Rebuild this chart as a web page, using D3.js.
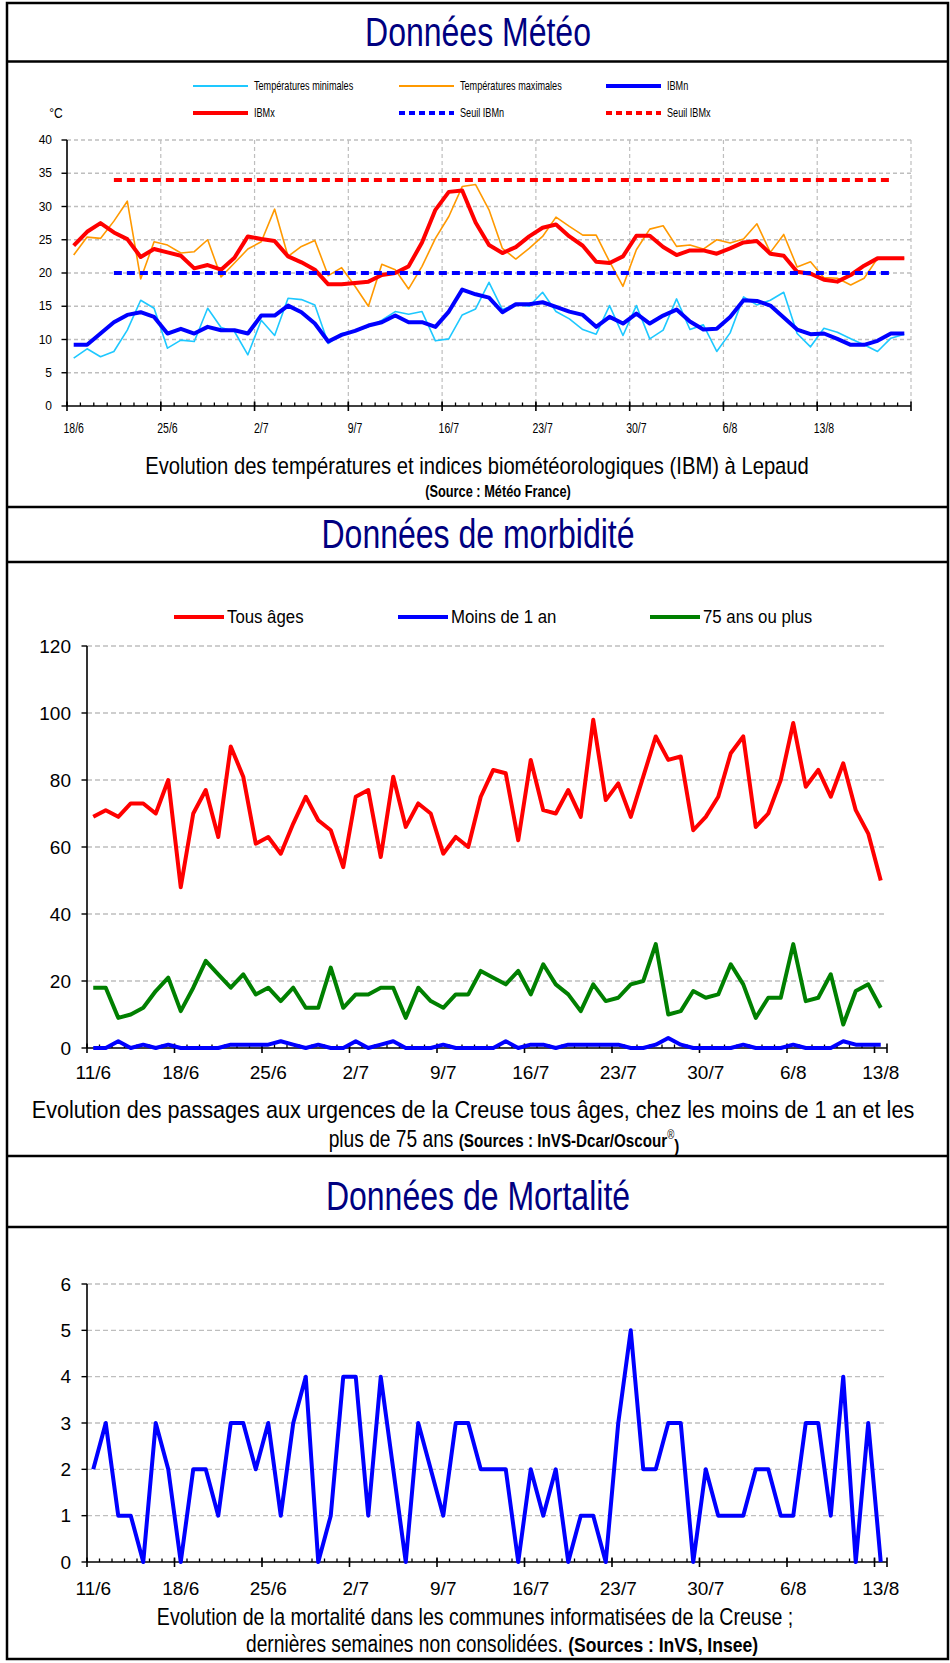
<!DOCTYPE html>
<html><head><meta charset="utf-8">
<script src="https://cdn.jsdelivr.net/npm/d3@7"></script>
<style>body{margin:0;background:#fff} svg{display:block}</style>
</head><body><svg id="c" width="950" height="1663"></svg>
<script>
// ---------------- DATA ----------------
const meteoStart = new Date(2012, 5, 18), meteoEnd = new Date(2012, 7, 20); // 18/6 .. 19/8
const meteoTickLabels = ["18/6","25/6","2/7","9/7","16/7","23/7","30/7","6/8","13/8"];
const meteoYTicks = [0,5,10,15,20,25,30,35,40];
const meteoTmin = [7.2,8.6,7.4,8.2,11.4,15.9,14.7,8.7,9.9,9.7,
  14.7,11.8,11.2,7.7,12.9,10.6,16.2,16.0,15.2,9.4,
  10.9,11.3,11.9,12.9,14.2,13.8,14.2,9.8,10.1,13.7,
  14.6,18.6,14.5,15.3,15.0,17.1,14.2,13.1,11.5,10.8,
  15.1,10.6,15.1,10.1,11.4,16.1,11.5,12.2,8.2,11.0,
  16.4,15.2,15.9,17.1,10.9,8.9,11.7,11.1,10.1,9.2,
  8.2,10.2,10.8];
const meteoTmax = [22.7,25.4,25.2,27.8,30.8,19.1,24.7,24.2,23.0,23.2,
  25.0,19.4,21.5,23.6,24.7,29.6,22.5,24.0,24.9,19.6,
  20.8,18.0,15.0,21.3,20.5,17.6,21.0,25.2,28.5,33.0,
  33.3,29.5,23.7,22.1,23.7,25.5,28.4,27.0,25.7,25.7,
  21.7,18.0,23.5,26.6,27.1,24.0,24.2,23.6,25.0,24.5,
  25.1,27.4,23.1,25.8,20.9,21.7,19.3,19.2,18.2,19.2,
  22.2,22.2,22.2];
const meteoIBMn = [9.2,9.2,10.9,12.6,13.7,14.1,13.4,10.9,11.6,10.9,
  11.9,11.4,11.4,10.9,13.6,13.6,15.1,14.1,12.4,9.7,
  10.7,11.3,12.1,12.6,13.6,12.6,12.6,11.9,14.2,17.5,
  16.8,16.3,14.1,15.3,15.3,15.6,14.9,14.2,13.7,11.9,
  13.4,12.4,13.9,12.4,13.6,14.5,12.7,11.5,11.6,13.4,
  15.9,15.8,15.1,13.3,11.5,10.8,10.9,10.1,9.2,9.2,
  9.8,10.9,10.9];
const meteoIBMx = [24.1,26.2,27.5,26.1,25.1,22.4,23.6,23.1,22.6,20.7,
  21.2,20.5,22.3,25.5,25.1,24.8,22.5,21.6,20.5,18.3,
  18.3,18.5,18.7,19.7,20.0,21.0,24.6,29.5,32.2,32.4,
  27.6,24.2,23.0,23.9,25.5,26.8,27.3,25.5,24.1,21.7,
  21.5,22.5,25.6,25.6,23.9,22.7,23.4,23.4,22.9,23.7,
  24.6,24.8,22.9,22.6,20.2,19.9,19.0,18.7,19.7,21.1,
  22.2,22.2,22.2];
const seuilIBMn = 20, seuilIBMx = 34;
const seuilFrom = "21/6", seuilTo = "18/8";

const morbStart = new Date(2012, 5, 11), morbEnd = new Date(2012, 7, 14); // 11/6 .. 13/8
const morbTickLabels = ["11/6","18/6","25/6","2/7","9/7","16/7","23/7","30/7","6/8","13/8"];
const morbYTicks = [0,20,40,60,80,100,120];
const tousAges = [69,71,69,73,73,70,80,48,70,77,
  63,90,81,61,63,58,67,75,68,65,
  54,75,77,57,81,66,73,70,58,63,
  60,75,83,82,62,86,71,70,77,69,
  98,74,79,69,81,93,86,87,65,69,
  75,88,93,66,70,80,97,78,83,75,
  85,71,64,50];
const moins1an = [0,0,2,0,1,0,1,0,0,0,
  0,1,1,1,1,2,1,0,1,0,
  0,2,0,1,2,0,0,0,1,0,
  0,0,0,2,0,1,1,0,1,1,
  1,1,1,0,0,1,3,1,0,0,
  0,0,1,0,0,0,1,0,0,0,
  2,1,1,1];
const plus75 = [18,18,9,10,12,17,21,11,18,26,
  22,18,22,16,18,14,18,12,12,24,
  12,16,16,18,18,9,18,14,12,16,
  16,23,21,19,23,16,25,19,16,11,
  19,14,15,19,20,31,10,11,17,15,
  16,25,19,9,15,15,31,14,15,22,
  7,17,19,12];

const mortYTicks = [0,1,2,3,4,5,6];
const deces = [2,3,1,1,0,3,2,0,2,2,
  1,3,3,2,3,1,3,4,0,1,
  4,4,1,4,2,0,3,2,1,3,
  3,2,2,2,0,2,1,2,0,1,
  1,0,3,5,2,2,3,3,0,2,
  1,1,1,2,2,1,1,3,3,1,
  4,0,3,0];

// ---------------- DRAW ----------------
const SANS = "'Liberation Sans',Arial,sans-serif";
const NAVY = "#000080", GRID = "#BEBEBE";
const fmt = d3.timeFormat("%-d/%-m");
const svg = d3.select("#c");

// text helper: horizontally condensed real text
function ntext(parent, x, y, size, k, anchor, weight){
  return parent.append("text").attr("transform",`translate(${x},${y}) scale(${k},1)`)
    .attr("dy","0.35em").attr("text-anchor",anchor || "start")
    .attr("font-family",SANS).attr("font-size",size).attr("font-weight",weight || "normal").attr("fill","#000");
}

// frame
svg.append("rect").attr("x",7).attr("y",3).attr("width",941).attr("height",1656)
  .attr("fill","none").attr("stroke","#000").attr("stroke-width",2.5);
[61.5,507,562,1156,1227].forEach(y => svg.append("line").attr("x1",7).attr("x2",948)
  .attr("y1",y).attr("y2",y).attr("stroke","#000").attr("stroke-width",2.5));

function title(txt, y){ ntext(svg, 478, y, 40, 0.8, "middle").attr("fill",NAVY).text(txt); }
title("Données Météo",32);
title("Données de morbidité",534);
title("Données de Mortalité",1196);

// generic category x axis (Excel style : ticks between categories)
function catAxis(g, x, days, labels, y0, labelY, size, k){
  const bw = x.bandwidth();
  const end = x.range()[1];
  days.forEach(d => g.append("line").attr("x1",x(d)).attr("x2",x(d)).attr("y1",y0-3.5).attr("y2",y0)
    .attr("stroke","#000").attr("stroke-width",1.3));
  g.append("line").attr("x1",x.range()[0]).attr("x2",end).attr("y1",y0).attr("y2",y0)
    .attr("stroke","#000").attr("stroke-width",1.6);
  const majors = days.filter(d => labels.includes(fmt(d)));
  majors.map(d => x(d)).concat([end]).forEach(px => g.append("line").attr("x1",px).attr("x2",px)
    .attr("y1",y0-4.5).attr("y2",y0+5).attr("stroke","#000").attr("stroke-width",1.6));
  majors.forEach(d => ntext(g, x(d)+bw/2, labelY, size, k, "middle").text(fmt(d)));
}
function yAxis(g, y, ticks, x0, labelX, size, gridEnd, dash){
  ticks.forEach(t => {
    if (t !== ticks[0]) g.append("line").attr("x1",x0).attr("x2",gridEnd).attr("y1",y(t)).attr("y2",y(t))
      .attr("stroke",GRID).attr("stroke-width",1.4).attr("stroke-dasharray",dash);
    g.append("line").attr("x1",x0-5.5).attr("x2",x0).attr("y1",y(t)).attr("y2",y(t)).attr("stroke","#000").attr("stroke-width",1.4);
    ntext(g, labelX, y(t), size, 1, "end").text(t);
  });
  g.append("line").attr("x1",x0).attr("x2",x0).attr("y1",y(ticks[ticks.length-1])).attr("y2",y(ticks[0]))
    .attr("stroke","#000").attr("stroke-width",1.6);
}
function series(g, x, y, days, vals, color, w, dash){
  const bw = x.bandwidth();
  const line = d3.line().defined(v => v != null).x((v,i) => x(days[i]) + bw/2).y(v => y(v));
  const p = g.append("path").datum(vals).attr("d",line).attr("fill","none").attr("stroke",color)
    .attr("stroke-width",w).attr("stroke-linejoin","round");
  if (dash) p.attr("stroke-dasharray",dash);
}

// ===== Météo =====
{
  const days = d3.timeDay.range(meteoStart, meteoEnd);
  const x = d3.scaleBand().domain(days).range([67,911]);
  const y = d3.scaleLinear().domain([0,40]).range([406,140]);
  const g = svg.append("g");
  const majors = days.filter(d => meteoTickLabels.includes(fmt(d)));
  majors.slice(1).map(d => x(d)).concat([911]).forEach(px => g.append("line").attr("x1",px).attr("x2",px)
    .attr("y1",y(40)).attr("y2",y(0)).attr("stroke",GRID).attr("stroke-width",1.2).attr("stroke-dasharray","4,3"));
  yAxis(g, y, meteoYTicks, 67, 52, 12, 911, "4,3");
  catAxis(g, x, days, meteoTickLabels, 406, 428, 14, 0.75);
  const idxFrom = days.findIndex(d => fmt(d) === seuilFrom), idxTo = days.findIndex(d => fmt(d) === seuilTo);
  const sN = days.map((d,i) => (i >= idxFrom && i <= idxTo) ? seuilIBMn : null);
  const sX = days.map((d,i) => (i >= idxFrom && i <= idxTo) ? seuilIBMx : null);
  series(g, x, y, days, meteoTmin, "#1EC8FF", 1.6);
  series(g, x, y, days, meteoTmax, "#FF9900", 1.6);
  series(g, x, y, days, meteoIBMn, "#0000FF", 4);
  series(g, x, y, days, meteoIBMx, "#FF0000", 4);
  series(g, x, y, days, sN, "#0000FF", 4, "8,5");
  series(g, x, y, days, sX, "#FF0000", 4, "8,5");
  ntext(g, 56, 113, 15, 0.8, "middle").text("°C");
  const leg = [
    {t:"Températures minimales", c:"#1EC8FF", w:2, x:193, y:86},
    {t:"Températures maximales", c:"#FF9900", w:2, x:399, y:86},
    {t:"IBMn", c:"#0000FF", w:4, x:606, y:86},
    {t:"IBMx", c:"#FF0000", w:4, x:193, y:113},
    {t:"Seuil IBMn", c:"#0000FF", w:4, x:399, y:113, d:"6,4"},
    {t:"Seuil IBMx", c:"#FF0000", w:4, x:606, y:113, d:"6,4"}];
  leg.forEach(l => {
    const ln = g.append("line").attr("x1",l.x).attr("x2",l.x+55).attr("y1",l.y).attr("y2",l.y)
      .attr("stroke",l.c).attr("stroke-width",l.w);
    if (l.d) ln.attr("stroke-dasharray",l.d);
    ntext(g, l.x+61, l.y, 12, 0.76).text(l.t);
  });
  ntext(svg, 477, 466, 23.5, 0.86, "middle").text("Evolution des températures et indices biométéorologiques (IBM) à Lepaud");
  ntext(svg, 498, 491, 16, 0.8, "middle", "bold").text("(Source : Météo France)");
}

// ===== Morbidité =====
{
  const days = d3.timeDay.range(morbStart, morbEnd);
  const x = d3.scaleBand().domain(days).range([87,887]);
  const y = d3.scaleLinear().domain([0,120]).range([1048,646]);
  const g = svg.append("g");
  yAxis(g, y, morbYTicks, 87, 71, 19, 886, "5,3");
  catAxis(g, x, days, morbTickLabels, 1048, 1072, 19, 1);
  series(g, x, y, days, tousAges, "#FF0000", 4);
  series(g, x, y, days, plus75, "#008000", 4);
  series(g, x, y, days, moins1an, "#0000FF", 4);
  const leg = [{t:"Tous âges",c:"#FF0000",x:174},{t:"Moins de 1 an",c:"#0000FF",x:398},{t:"75 ans ou plus",c:"#008000",x:650}];
  leg.forEach(l => {
    g.append("line").attr("x1",l.x).attr("x2",l.x+50).attr("y1",617).attr("y2",617).attr("stroke",l.c).attr("stroke-width",4);
    ntext(g, l.x+53, 617, 17.5, 0.96).text(l.t);
  });
  ntext(svg, 473, 1110, 24, 0.9, "middle")
    .text("Evolution des passages aux urgences de la Creuse tous âges, chez les moins de 1 an et les");
  const t2 = ntext(svg, 504, 1139, 24, 0.8, "middle");
  t2.append("tspan").text("plus de 75 ans ");
  t2.append("tspan").attr("font-weight","bold").attr("font-size",19).text("(Sources : InVS-Dcar/Oscour");
  t2.append("tspan").attr("font-size",12).attr("dy","-0.7em").text("®");
  t2.append("tspan").attr("font-weight","bold").attr("font-size",19).attr("dy","0.7em").text(")");
}

// ===== Mortalité =====
{
  const days = d3.timeDay.range(morbStart, morbEnd);
  const x = d3.scaleBand().domain(days).range([87,887]);
  const y = d3.scaleLinear().domain([0,6]).range([1562,1284]);
  const g = svg.append("g");
  yAxis(g, y, mortYTicks, 87, 71, 19, 886, "5,3");
  catAxis(g, x, days, morbTickLabels, 1562, 1588, 19, 1);
  series(g, x, y, days, deces, "#0000FF", 4);
  ntext(svg, 475, 1617, 23, 0.85, "middle")
    .text("Evolution de la mortalité dans les communes informatisées de la Creuse ;");
  const t2 = ntext(svg, 502, 1644, 23, 0.835, "middle");
  t2.append("tspan").text("dernières semaines non consolidées.  ");
  t2.append("tspan").attr("font-weight","bold").attr("font-size",21).text("(Sources : InVS, Insee)");
}
</script></body></html>
